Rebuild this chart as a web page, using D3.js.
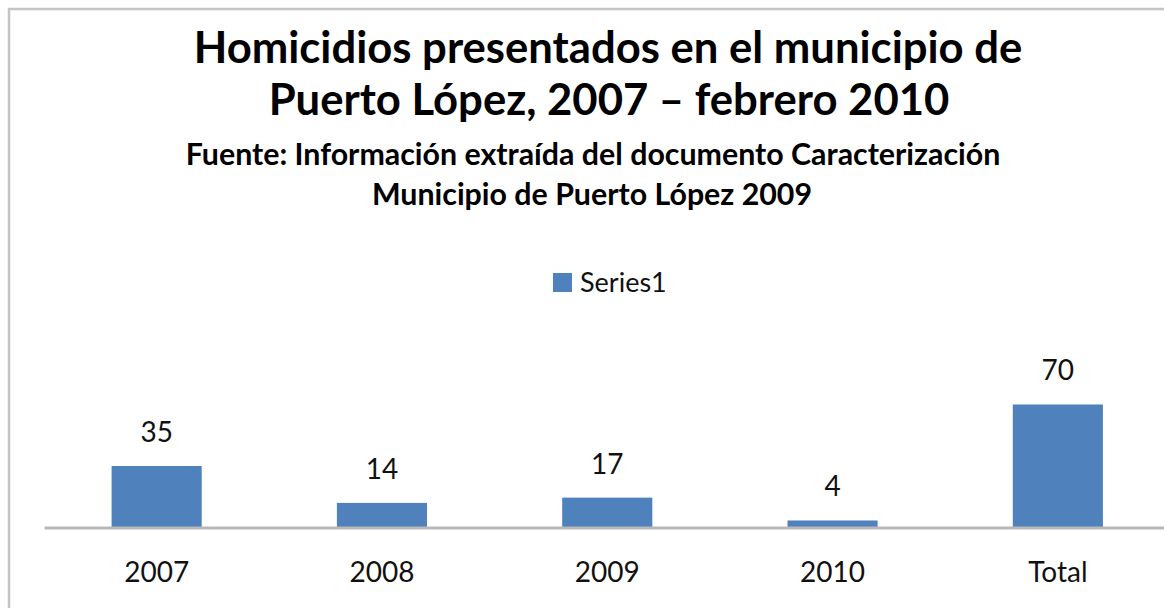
<!DOCTYPE html>
<html>
<head>
<meta charset="utf-8">
<script src="https://cdn.jsdelivr.net/npm/d3@7"></script>
<style>
  body { margin: 0; background: #fff; }
  svg { display: block; font-family: Lato, "Open Sans", sans-serif; }
</style>
</head>
<body>
<script>
'use strict'

var categories = ['2007', '2008', '2009', '2010', 'Total']
var values = [35, 14, 17, 4, 70]
var seriesName = 'Series1'
var titleLines = ['Homicidios presentados en el municipio de', 'Puerto López, 2007 – febrero 2010']
var subtitleLines = ['Fuente: Información extraída del documento Caracterización', 'Municipio de Puerto López 2009']
var yDomain = [0, 80]

var opts = {
  width: 1164,
  height: 608,
  barColor: '#4f81bd',
  axisColor: '#b8b8b8',
  borderColor: '#c4c4c4'
}

var svg = d3.select('body').append('svg')
                              .attr('width', opts.width)
                              .attr('height', opts.height)

// chart frame, cut off at right and bottom like the source
svg.append('rect')
  .attr('x', 9)
  .attr('y', 9)
  .attr('width', opts.width + 20)
  .attr('height', opts.height + 20)
  .attr('fill', '#fff')
  .attr('stroke', opts.borderColor)
  .attr('stroke-width', 2.5)

// scale text so its width matches the source
function fitText (sel, targetWidth) {
  var size = parseFloat(sel.attr('font-size'))
  var w = sel.node().getComputedTextLength()
  sel.attr('font-size', size * targetWidth / w)
  return size * targetWidth / w
}

var title = svg.append('g').attr('font-weight', 700).attr('fill', '#000')
var t1 = title.append('text')
  .attr('x', 608)
  .attr('y', 63)
  .attr('text-anchor', 'middle')
  .attr('font-size', 36)
  .text(titleLines[0])
var titleSize = fitText(t1, 829)
title.append('text')
  .attr('x', 609)
  .attr('y', 115)
  .attr('text-anchor', 'middle')
  .attr('font-size', titleSize)
  .text(titleLines[1])

var sub = svg.append('g').attr('font-weight', 700).attr('fill', '#000')
var s1 = sub.append('text')
  .attr('x', 593)
  .attr('y', 165)
  .attr('text-anchor', 'middle')
  .attr('font-size', 24)
  .text(subtitleLines[0])
var subSize = fitText(s1, 815)
sub.append('text')
  .attr('x', 592)
  .attr('y', 205)
  .attr('text-anchor', 'middle')
  .attr('font-size', subSize)
  .text(subtitleLines[1])

// legend
var legend = svg.append('g').attr('transform', 'translate(553,273)')
legend.append('rect')
  .attr('width', 19)
  .attr('height', 19)
  .attr('fill', opts.barColor)
legend.append('text')
  .attr('x', 27)
  .attr('y', 19)
  .attr('font-size', 27)
  .attr('fill', '#111')
  .text(seriesName)

var x = d3.scaleBand()
  .domain(categories)
  .range([44, 1170.5])
  .paddingInner(0.6)
  .paddingOuter(0.3)

var y = d3.scaleLinear()
  .domain(yDomain)
  .range([527.5, 386.9])

var g = svg.append('g')

g.selectAll()
  .data(values)
  .enter().append('rect')
  .attr('x', function (d, i) { return x(categories[i]) })
  .attr('y', function (d) { return y(d) })
  .attr('width', x.bandwidth())
  .attr('height', function (d) { return y(0) - y(d) })
  .attr('fill', opts.barColor)

g.selectAll()
  .data(values)
  .enter().append('text')
  .attr('x', function (d, i) { return x(categories[i]) + x.bandwidth() / 2 })
  .attr('y', function (d) { return y(d) - 24 })
  .attr('text-anchor', 'middle')
  .attr('font-size', 28)
  .attr('fill', '#111')
  .text(function (d) { return d })

var xAxis = svg.append('g')
  .attr('transform', 'translate(0,' + y(0) + ')')
  .call(d3.axisBottom(x).tickSize(0).tickPadding(30))

xAxis.select('.domain')
  .attr('stroke', opts.axisColor)
  .attr('stroke-width', 3)

xAxis.selectAll('text')
  .attr('font-size', 28)
  .attr('font-family', 'Lato, "Open Sans", sans-serif')
  .attr('fill', '#111')
  .attr('dy', '0.71em')
  .attr('y', 35)
</script>
</body>
</html>
